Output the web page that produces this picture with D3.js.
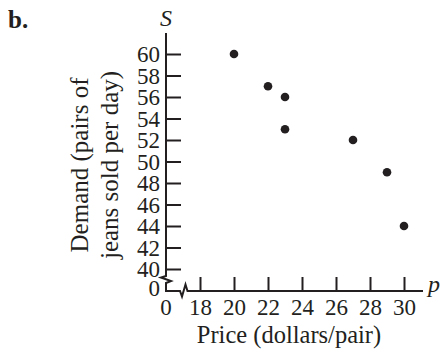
<!DOCTYPE html>
<html><head><meta charset="utf-8">
<script src="https://cdn.jsdelivr.net/npm/d3@7"></script>
<style>
body{margin:0;background:#fff;}
text{font-family:"Liberation Serif","Times New Roman",serif;fill:#231f20;}
</style></head>
<body><svg id="c" width="441" height="352"></svg>
<script>
const prices = [20, 22, 23, 23, 27, 29, 30];
const demand = [60, 57, 56, 53, 52, 49, 44];
const xTicks = [18, 20, 22, 24, 26, 28, 30];
const yTicks = [40, 42, 44, 46, 48, 50, 52, 54, 56, 58, 60];
const yLabelLines = ["Demand (pairs of", "jeans sold per day)"];
const xLabel = "Price (dollars/pair)";

const svg = d3.select("#c");
const ink = "#231f20";
const x = d3.scaleLinear().domain([18, 30]).range([200, 404]);
const y = d3.scaleLinear().domain([40, 60]).range([269, 54]);
const ox = 166, oy = 291;

// axes
const gy = svg.append("g").attr("transform", `translate(${ox},0)`)
  .call(d3.axisLeft(y).tickValues(yTicks).tickSize(-15).tickPadding(6));
const gx = svg.append("g").attr("transform", `translate(0,${oy})`)
  .call(d3.axisBottom(x).tickValues(xTicks).tickSize(-14).tickPadding(7));
[gy, gx].forEach(g => {
  g.select(".domain").remove();
  g.selectAll(".tick line").attr("stroke", ink).attr("stroke-width", 2);
  g.selectAll(".tick text").attr("font-size", 23).attr("font-family", "Liberation Serif").attr("fill", ink);
});
gy.selectAll(".tick text").attr("dy", "0.34em");
gx.selectAll(".tick text").attr("dy", "0.72em");

// axis lines with breaks
const line = d3.line();
svg.append("path").attr("d", line([[ox, 33], [ox, 276], [ox - 5, 277.5], [ox + 5, 281], [ox, 283], [ox, oy],
  [180, oy], [182, 296.5], [185.5, 284.5], [187.5, oy], [423, oy]]))
  .attr("fill", "none").attr("stroke", ink).attr("stroke-width", 2).attr("stroke-linejoin", "miter");

// zero labels
svg.append("text").attr("x", 160).attr("y", oy - 3).attr("dy", "0.34em").attr("text-anchor", "end")
  .attr("font-size", 23).text("0");
svg.append("text").attr("x", ox).attr("y", oy + 7).attr("dy", "0.72em").attr("text-anchor", "middle")
  .attr("font-size", 23).text("0");

// axis variable names
svg.append("text").attr("x", ox).attr("y", 26).attr("text-anchor", "middle")
  .attr("font-size", 24).attr("font-style", "italic").text("S");
svg.append("text").attr("x", 428).attr("y", 292).attr("text-anchor", "start")
  .attr("font-size", 24).attr("font-style", "italic").text("p");

// axis titles
svg.append("text").attr("x", 289).attr("y", 343).attr("text-anchor", "middle")
  .attr("font-size", 24.5).text(xLabel);
yLabelLines.forEach((t, i) => {
  svg.append("text").attr("transform", `translate(${88 + i * 30},165) rotate(-90)`)
    .attr("text-anchor", "middle").attr("font-size", 25).text(t);
});

// panel label
svg.append("text").attr("x", 8).attr("y", 28).attr("font-size", 25).attr("font-weight", "bold").text("b.");

// points
svg.append("g").selectAll("circle").data(prices).join("circle")
  .attr("cx", (d) => x(d)).attr("cy", (d, i) => y(demand[i])).attr("r", 4.3).attr("fill", ink);
</script></body></html>
